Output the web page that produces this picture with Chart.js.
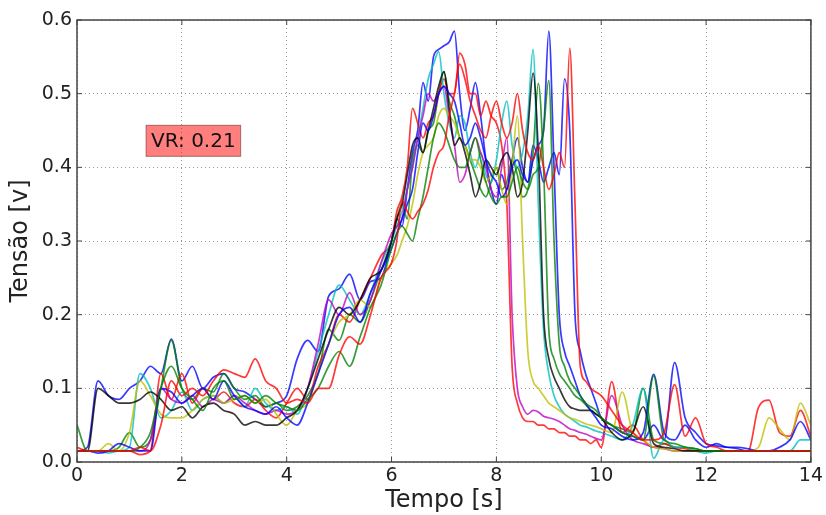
<!DOCTYPE html>
<html>
<head>
<meta charset="utf-8">
<script src="https://cdn.jsdelivr.net/npm/chart.js@4.4.1/dist/chart.umd.min.js"></script>
<style>
  body { margin: 0; background: #fff; }
</style>
</head>
<body>
<canvas id="tensaoChart" width="826" height="515"></canvas>
<script>
// Tensão vs tempo, 10 ensaios (cores na ordem clássica do matplotlib)
// amostragem mais fina entre 6 e 10 s, onde as curvas oscilam mais

const tempo = [
  0, 0.2, 0.4, 0.6, 0.8, 1.0, 1.2, 1.4, 1.6, 1.8,
  2.0, 2.2, 2.4, 2.6, 2.8, 3.0, 3.2, 3.4, 3.6, 3.8,
  4.0, 4.2, 4.4, 4.6, 4.8, 5.0, 5.2, 5.4, 5.6, 5.8,
  6.0, 6.1, 6.2, 6.3, 6.4, 6.5, 6.6, 6.7, 6.8, 6.9,
  7.0, 7.1, 7.2, 7.3, 7.4, 7.5, 7.6, 7.7, 7.8, 7.9,
  8.0, 8.1, 8.2, 8.3, 8.4, 8.5, 8.6, 8.7, 8.8, 8.9,
  9.0, 9.1, 9.2, 9.3, 9.4, 9.5, 9.6, 9.7, 9.8, 9.9,
  10.0,
  10.2, 10.4, 10.6, 10.8, 11.0, 11.2, 11.4, 11.6, 11.8, 12.0,
  12.2, 12.4, 12.6, 12.8, 13.0, 13.2, 13.4, 13.6, 13.8, 14.0
];

const azul1 = [
  0.015, 0.02, 0.11, 0.09, 0.085, 0.1, 0.11, 0.13, 0.12, 0.167,
  0.11, 0.13, 0.1, 0.115, 0.12, 0.1, 0.095, 0.085, 0.075, 0.08,
  0.09, 0.14, 0.165, 0.15, 0.225, 0.235, 0.255, 0.22, 0.245, 0.25,
  0.30, 0.33, 0.32, 0.37, 0.42, 0.45, 0.515, 0.49, 0.55, 0.56,
  0.565, 0.57, 0.585, 0.5, 0.45, 0.48, 0.515, 0.47, 0.41, 0.37,
  0.35, 0.39, 0.37, 0.41, 0.44, 0.4, 0.38, 0.43, 0.41, 0.38,
  0.4, 0.42, 0.39, 0.52, 0.45, 0.2, 0.15, 0.12, 0.1, 0.08,
  0.06,
  0.05, 0.04, 0.035, 0.03, 0.05, 0.03, 0.135, 0.06, 0.04, 0.025,
  0.022, 0.02, 0.018, 0.015, 0.015, 0.015, 0.015, 0.015, 0.015, 0.015
];
const verde1 = [
  0.05, 0.015, 0.015, 0.015, 0.02, 0.04, 0.02, 0.03, 0.1, 0.165,
  0.1, 0.085, 0.1, 0.095, 0.12, 0.1, 0.085, 0.09, 0.075, 0.08,
  0.07, 0.075, 0.09, 0.12, 0.18, 0.165, 0.2, 0.19, 0.22, 0.26,
  0.30, 0.33, 0.35, 0.33, 0.41, 0.43, 0.42, 0.45, 0.46, 0.5,
  0.53, 0.49, 0.47, 0.44, 0.43, 0.41, 0.39, 0.37, 0.36, 0.38,
  0.4, 0.37, 0.38, 0.41, 0.39, 0.36, 0.37, 0.42, 0.514, 0.4,
  0.18, 0.14, 0.12, 0.11, 0.1, 0.09, 0.085, 0.078, 0.07, 0.065,
  0.06,
  0.05, 0.045, 0.04, 0.1, 0.03, 0.025, 0.02, 0.02, 0.018, 0.015,
  0.015, 0.015, 0.015, 0.015, 0.015, 0.015, 0.015, 0.015, 0.015, 0.015
];
const vermelho1 = [
  0.02, 0.015, 0.015, 0.015, 0.015, 0.015, 0.01, 0.015, 0.12, 0.085,
  0.12, 0.08, 0.1, 0.085, 0.095, 0.08, 0.075, 0.085, 0.07, 0.06,
  0.08, 0.1, 0.085, 0.13, 0.16, 0.2, 0.19, 0.22, 0.25, 0.28,
  0.3, 0.34, 0.36, 0.4, 0.48, 0.46, 0.44, 0.46, 0.47, 0.5,
  0.52, 0.5, 0.5, 0.555, 0.54, 0.5, 0.5, 0.47, 0.49, 0.47,
  0.46, 0.43, 0.35, 0.13, 0.08, 0.06, 0.055, 0.055, 0.05, 0.05,
  0.045, 0.045, 0.04, 0.04, 0.035, 0.035, 0.03, 0.03, 0.025, 0.03,
  0.02,
  0.109, 0.04, 0.05, 0.03, 0.02, 0.025, 0.02, 0.018, 0.015, 0.015,
  0.015, 0.015, 0.015, 0.015, 0.074, 0.084, 0.04, 0.035, 0.07, 0.035
];
const ciano = [
  0.015, 0.015, 0.015, 0.012, 0.015, 0.02, 0.12, 0.1, 0.06, 0.07,
  0.095, 0.07, 0.085, 0.09, 0.08, 0.09, 0.075, 0.1, 0.08, 0.07,
  0.075, 0.065, 0.1, 0.15, 0.2, 0.24, 0.22, 0.2, 0.23, 0.27,
  0.3, 0.32, 0.34, 0.37, 0.4, 0.44, 0.48, 0.52, 0.54, 0.557,
  0.5, 0.46, 0.44, 0.47, 0.46, 0.42, 0.4, 0.42, 0.39, 0.38,
  0.41, 0.46, 0.49, 0.43, 0.4, 0.42, 0.47, 0.56, 0.35, 0.18,
  0.12, 0.09, 0.075, 0.065, 0.06, 0.055, 0.05, 0.048, 0.045, 0.042,
  0.04,
  0.035, 0.03, 0.05, 0.1, 0.005, 0.03, 0.02, 0.02, 0.015, 0.012,
  0.015, 0.015, 0.015, 0.015, 0.015, 0.015, 0.015, 0.015, 0.03, 0.03
];
const magenta = [
  0.015, 0.015, 0.015, 0.015, 0.015, 0.015, 0.015, 0.03, 0.1, 0.085,
  0.08, 0.09, 0.075, 0.085, 0.08, 0.09, 0.08, 0.07, 0.065, 0.07,
  0.065, 0.07, 0.1, 0.16, 0.22, 0.2, 0.23, 0.2, 0.22, 0.27,
  0.31, 0.32, 0.33, 0.37, 0.4, 0.44, 0.47, 0.5, 0.49, 0.5,
  0.51, 0.47, 0.43, 0.38, 0.39, 0.42, 0.44, 0.42, 0.4, 0.37,
  0.36, 0.4, 0.44, 0.2, 0.1, 0.075, 0.065, 0.07, 0.068, 0.062,
  0.06, 0.058, 0.055, 0.05, 0.045, 0.043, 0.04, 0.038, 0.035, 0.032,
  0.03,
  0.09, 0.05, 0.03, 0.025, 0.02, 0.018, 0.015, 0.015, 0.015, 0.015,
  0.015, 0.015, 0.015, 0.015, 0.015, 0.015, 0.015, 0.015, 0.015, 0.015
];
const amarelo = [
  0.015, 0.015, 0.015, 0.025, 0.015, 0.04, 0.11, 0.09, 0.065, 0.06,
  0.06, 0.07, 0.085, 0.09, 0.08, 0.085, 0.09, 0.08, 0.085, 0.065,
  0.05, 0.07, 0.08, 0.12, 0.16, 0.19, 0.2, 0.22, 0.21, 0.25,
  0.27, 0.28, 0.3, 0.32, 0.35, 0.39, 0.42, 0.43, 0.44, 0.47,
  0.48, 0.47, 0.46, 0.44, 0.43, 0.41, 0.41, 0.4, 0.38, 0.39,
  0.4, 0.37, 0.35, 0.4, 0.47, 0.3, 0.15, 0.11, 0.1, 0.09,
  0.08, 0.075, 0.07, 0.065, 0.06, 0.058, 0.055, 0.052, 0.05, 0.048,
  0.045,
  0.04, 0.095, 0.04, 0.03, 0.02, 0.018, 0.015, 0.015, 0.015, 0.015,
  0.015, 0.015, 0.015, 0.015, 0.02, 0.06, 0.045, 0.03, 0.08, 0.05
];
const preto = [
  0.015, 0.015, 0.1, 0.09, 0.08, 0.08, 0.085, 0.095, 0.085, 0.07,
  0.075, 0.06, 0.075, 0.08, 0.07, 0.065, 0.05, 0.055, 0.05, 0.05,
  0.06, 0.07, 0.1, 0.14, 0.18, 0.21, 0.2, 0.22, 0.25, 0.26,
  0.3, 0.33, 0.35, 0.39, 0.43, 0.44, 0.42, 0.45, 0.48, 0.51,
  0.53, 0.48, 0.43, 0.44, 0.42, 0.39, 0.36, 0.38, 0.41, 0.4,
  0.39, 0.41, 0.42, 0.4, 0.36, 0.38, 0.45, 0.528, 0.42, 0.2,
  0.14, 0.115, 0.1, 0.085, 0.075, 0.072, 0.07, 0.07, 0.07, 0.065,
  0.06,
  0.04, 0.03, 0.04, 0.075, 0.025, 0.02, 0.018, 0.015, 0.015, 0.015,
  0.015, 0.015, 0.015, 0.015, 0.015, 0.015, 0.015, 0.015, 0.015, 0.015
];
const azul2 = [
  0.015, 0.015, 0.012, 0.015, 0.025, 0.02, 0.015, 0.015, 0.1, 0.095,
  0.08, 0.09, 0.1, 0.085, 0.11, 0.09, 0.075, 0.07, 0.065, 0.075,
  0.06, 0.05, 0.08, 0.12, 0.16, 0.2, 0.21, 0.19, 0.23, 0.26,
  0.29, 0.31, 0.33, 0.35, 0.37, 0.42, 0.46, 0.45, 0.47, 0.5,
  0.51, 0.5, 0.49, 0.46, 0.43, 0.44, 0.46, 0.44, 0.41, 0.39,
  0.38, 0.36, 0.37, 0.4, 0.41, 0.39, 0.38, 0.41, 0.43, 0.45,
  0.585, 0.4, 0.2, 0.15, 0.13, 0.11, 0.09, 0.08, 0.07, 0.06,
  0.05,
  0.045, 0.035, 0.03, 0.04, 0.119, 0.04, 0.03, 0.05, 0.03, 0.02,
  0.025, 0.02, 0.02, 0.018, 0.015, 0.015, 0.02, 0.03, 0.055, 0.03
];
const verde2 = [
  0.015, 0.015, 0.015, 0.015, 0.015, 0.015, 0.02, 0.04, 0.1, 0.13,
  0.1, 0.085, 0.07, 0.1, 0.11, 0.085, 0.09, 0.08, 0.09, 0.08,
  0.075, 0.07, 0.085, 0.1, 0.13, 0.15, 0.13, 0.17, 0.21, 0.24,
  0.29, 0.31, 0.32, 0.31, 0.3, 0.33, 0.36, 0.4, 0.44, 0.46,
  0.45, 0.43, 0.41, 0.4, 0.4, 0.42, 0.44, 0.41, 0.38, 0.36,
  0.35, 0.36, 0.36, 0.38, 0.4, 0.38, 0.37, 0.39, 0.4, 0.45,
  0.518, 0.3, 0.16, 0.13, 0.11, 0.1, 0.09, 0.08, 0.075, 0.07,
  0.06,
  0.05, 0.04, 0.035, 0.03, 0.117, 0.03, 0.025, 0.02, 0.018, 0.015,
  0.015, 0.015, 0.015, 0.015, 0.015, 0.015, 0.015, 0.015, 0.015, 0.015
];
const vermelho2 = [
  0.015, 0.015, 0.015, 0.015, 0.015, 0.015, 0.02, 0.015, 0.05, 0.11,
  0.09, 0.1, 0.09, 0.11, 0.125, 0.12, 0.115, 0.14, 0.11, 0.1,
  0.08, 0.085, 0.08, 0.1, 0.1, 0.145, 0.17, 0.16, 0.2, 0.25,
  0.27, 0.3, 0.355, 0.34, 0.33, 0.34, 0.35, 0.37, 0.4, 0.42,
  0.43, 0.47, 0.5, 0.54, 0.52, 0.49, 0.47, 0.45, 0.44, 0.47,
  0.49, 0.46, 0.44, 0.46, 0.5, 0.45, 0.42, 0.41, 0.43, 0.4,
  0.37, 0.39, 0.42, 0.4, 0.562, 0.35, 0.13, 0.11, 0.1, 0.095,
  0.09,
  0.07, 0.05, 0.04, 0.03, 0.03, 0.04, 0.105, 0.035, 0.06, 0.025,
  0.02, 0.015, 0.015, 0.015, 0.015, 0.015, 0.015, 0.015, 0.015, 0.015
];

const yTicks = [0.0, 0.1, 0.2, 0.3, 0.4, 0.5, 0.6];
const xTicks = [0, 2, 4, 6, 8, 10, 12, 14];
const rotulo = { text: 'VR: 0.21', x: 2.22, y: 0.436 };

// b, g, r, c, m, y, k, b, g, r
const series = [
  { data: azul1, color: 'rgba(0,0,255,0.78)' },
  { data: verde1, color: 'rgba(0,128,0,0.78)' },
  { data: vermelho1, color: 'rgba(255,0,0,0.78)' },
  { data: ciano, color: 'rgba(0,191,191,0.78)' },
  { data: magenta, color: 'rgba(191,0,191,0.78)' },
  { data: amarelo, color: 'rgba(191,191,0,0.78)' },
  { data: preto, color: 'rgba(0,0,0,0.78)' },
  { data: azul2, color: 'rgba(0,0,255,0.78)' },
  { data: verde2, color: 'rgba(0,128,0,0.78)' },
  { data: vermelho2, color: 'rgba(255,0,0,0.78)' }
];

// chart.js draws first dataset on top, matplotlib draws last on top
const datasets = series.map(s => ({
  data: tempo.map((t, i) => ({ x: t, y: s.data[i] })),
  borderColor: s.color,
  backgroundColor: 'transparent',
  borderWidth: 1.7,
  pointRadius: 0,
  fill: false,
  cubicInterpolationMode: 'monotone'
})).reverse();

const FONT = "'DejaVu Sans', sans-serif";

// frame, inward ticks and VR label
const framePlugin = {
  id: 'frame',
  afterDraw(chart) {
    const { ctx, chartArea: a, scales } = chart;
    ctx.save();
    ctx.strokeStyle = '#444';
    ctx.lineWidth = 1.5;
    ctx.strokeRect(a.left, a.top, a.right - a.left, a.bottom - a.top);

    ctx.lineWidth = 1;
    ctx.beginPath();
    xTicks.forEach(v => {
      const px = scales.x.getPixelForValue(v);
      ctx.moveTo(px, a.bottom); ctx.lineTo(px, a.bottom - 5);
      ctx.moveTo(px, a.top); ctx.lineTo(px, a.top + 5);
    });
    yTicks.forEach(v => {
      const py = scales.y.getPixelForValue(v);
      ctx.moveTo(a.left, py); ctx.lineTo(a.left + 5, py);
      ctx.moveTo(a.right, py); ctx.lineTo(a.right - 5, py);
    });
    ctx.stroke();

    const cx = scales.x.getPixelForValue(rotulo.x);
    const cy = scales.y.getPixelForValue(rotulo.y);
    ctx.font = '20px ' + FONT;
    const tw = ctx.measureText(rotulo.text).width;
    const w = tw + 10, h = 31;
    ctx.fillStyle = 'rgba(255,0,0,0.5)';
    ctx.fillRect(cx - w / 2, cy - h / 2, w, h);
    ctx.strokeStyle = 'rgba(120,40,40,0.6)';
    ctx.strokeRect(cx - w / 2, cy - h / 2, w, h);
    ctx.fillStyle = '#111';
    ctx.textAlign = 'center';
    ctx.textBaseline = 'middle';
    ctx.fillText(rotulo.text, cx, cy + 1);
    ctx.restore();
  }
};

const ctx = document.getElementById('tensaoChart').getContext('2d');
const tensaoChart = new Chart(ctx, {
  type: 'line',
  data: { datasets: datasets },
  options: {
    responsive: false,
    animation: false,
    layout: { padding: { top: 20, right: 14, left: 0, bottom: 0 } },
    plugins: {
      legend: { display: false },
      tooltip: { enabled: false }
    },
    scales: {
      x: {
        type: 'linear',
        min: 0,
        max: 14,
        afterFit: s => { s.height = 53; },
        afterBuildTicks: s => { s.ticks = xTicks.map(v => ({ value: v })); },
        ticks: {
          color: '#222',
          font: { family: FONT, size: 19 },
          padding: 3,
          maxRotation: 0
        },
        grid: { color: 'rgba(0,0,0,0.4)', lineWidth: 1, drawTicks: false },
        border: { display: false, dash: [1, 3] },
        title: {
          display: true,
          text: 'Tempo [s]',
          color: '#222',
          font: { family: FONT, size: 24 },
          padding: { top: 0, bottom: 0 }
        }
      },
      y: {
        min: 0,
        max: 0.6,
        afterFit: s => { s.width = 77; },
        afterBuildTicks: s => { s.ticks = yTicks.map(v => ({ value: v })); },
        ticks: {
          color: '#222',
          font: { family: FONT, size: 19 },
          padding: 5,
          callback: v => Number(v).toFixed(1)
        },
        grid: { color: 'rgba(0,0,0,0.4)', lineWidth: 1, drawTicks: false },
        border: { display: false, dash: [1, 3] },
        title: {
          display: true,
          text: 'Tensão [v]',
          color: '#222',
          font: { family: FONT, size: 24 },
          padding: { top: 6, bottom: 0 }
        }
      }
    }
  },
  plugins: [framePlugin]
});
</script>
</body>
</html>
